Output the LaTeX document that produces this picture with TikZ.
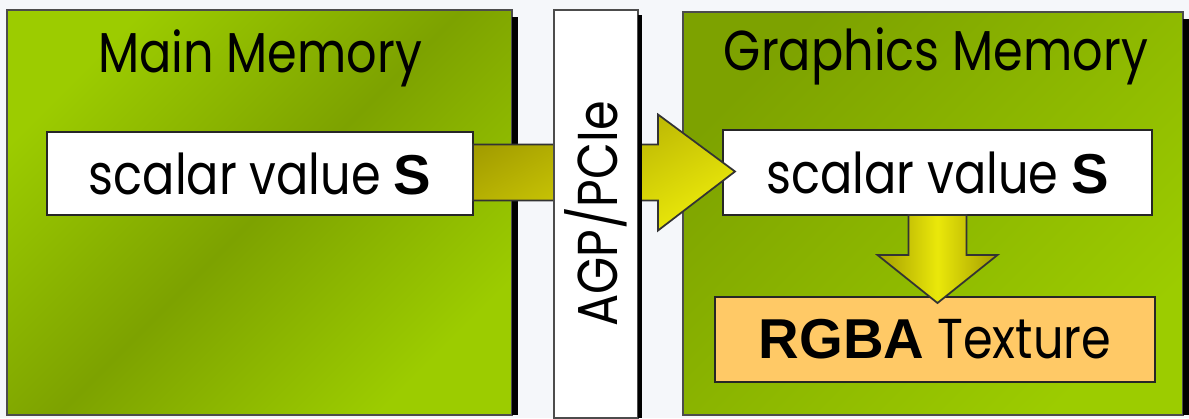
\documentclass[tikz,border=0pt]{standalone}
\usepackage{fontspec}
\setmainfont{Poppins}[FakeStretch=0.85]
\newfontfamily\heavyfont{Liberation Sans}
\usepackage{tikz}
\usetikzlibrary{calc}
\definecolor{greenlight}{HTML}{9CCC00}
\definecolor{greendark}{HTML}{7DA200}
\definecolor{arrowlight}{HTML}{EAE80A}
\definecolor{arrowdark}{HTML}{A39D00}
\definecolor{texfill}{HTML}{FFC966}
\definecolor{gapbg}{HTML}{F5F7FA}

\begin{document}
\begin{tikzpicture}[
  x=0.1mm, y=-0.1mm,
  every node/.style={inner sep=0pt, outer sep=0pt, font=\fontsize{16pt}{19pt}\selectfont},
  panel/.style={draw=black!70, line width=0.5pt, anchor=north west},
  valbox/.style={draw=black!85, line width=0.6pt, fill=white, anchor=north west},
  texbox/.style={valbox, fill=texfill},
  title/.style={anchor=base, font=\fontsize{16pt}{19pt}\selectfont},
  bigarrow/.style={draw=black!80, line width=0.5pt}
]
\useasboundingbox (0,0) rectangle (1189,418);
\fill[gapbg] (0,0) rectangle (1189,418);

% Main memory panel
\node[panel, minimum width=50.5mm, minimum height=40.5mm,
  top color=greenlight, bottom color=greenlight, middle color=greendark,
  shading angle=45] (mainmem) at (7,10) {};
\fill[black] ($(mainmem.north east)+(0,7)$) rectangle ($(mainmem.south east)+(6,0)$);
\node[title] (mmtitle) at (260,72) {Main Memory};
\node[valbox, minimum width=42.6mm, minimum height=8.3mm] (sleft) at (47,132)
  {scalar value {\heavyfont\bfseries S}};

% Graphics memory panel
\node[panel, minimum width=50.0mm, minimum height=40.3mm,
  top color=greendark, bottom color=greenlight, shading angle=45] (gfxmem) at (683,12) {};
\fill[black] ($(gfxmem.north east)+(0,7)$) rectangle ($(gfxmem.south east)+(6,0)$);
\node[title] (gmtitle) at (936,70) {Graphics Memory};
\node[valbox, minimum width=42.9mm, minimum height=8.5mm] (sright) at (723,130)
  {scalar value {\heavyfont\bfseries S}};
\node[texbox, minimum width=44.0mm, minimum height=8.5mm] (rgba) at (715,297)
  {{\heavyfont\bfseries RGBA} Texture};

% Transfer arrows
\draw[bigarrow, top color=arrowdark, bottom color=arrowlight, shading angle=30]
  ($(sleft.east)+(0,-29)$) -- ++(185,0) -- ++(0,-30) -- ($(sright.west)+(12,-1)$)
  -- ++(-77,59) -- ++(0,-30) -- ++(-185,0) -- cycle;
\draw[bigarrow, left color=arrowdark, right color=arrowdark, middle color=arrowlight]
  ($(sright.south)+(-29,0)$) -- ++(0,40) -- ++(-31,0) -- ($(sright.south)+(0,88)$)
  -- ++(60,-48) -- ++(-31,0) -- ++(0,-40) -- cycle;

% AGP/PCIe bus
\node[panel, fill=white, minimum width=8.4mm, minimum height=40.8mm] (bus) at (554,10) {};
\fill[black] ($(bus.north east)+(0,5)$) rectangle ($(bus.south east)+(4,0)$);
\node[rotate=90] (buslabel) at (bus.center) {AGP/PCIe};

\end{tikzpicture}
\end{document}
